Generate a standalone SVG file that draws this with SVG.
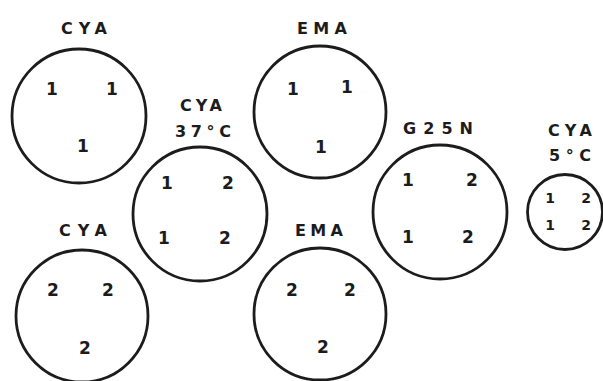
<svg xmlns="http://www.w3.org/2000/svg" width="603" height="381" viewBox="0 0 603 381">
<style>
.dish{fill:none;stroke:#1c1c1c;stroke-width:2.8}
.lbl{font-family:"DejaVu Sans","Liberation Sans",sans-serif;font-weight:bold;font-size:16px;fill:#1c1c1c;text-anchor:middle}
.n{font-family:"DejaVu Sans","Liberation Sans",sans-serif;font-weight:bold;font-size:17px;fill:#1c1c1c;text-anchor:middle}
.s{font-size:14px}
</style>
<rect width="603" height="381" fill="#ffffff"/>
<g id="dish-cya-1">
<text class="lbl" x="84" y="34" textLength="46" lengthAdjust="spacing">CYA</text>
<circle class="dish" cx="79" cy="116" r="67"/>
<text class="n" x="52" y="95">1</text><text class="n" x="112" y="95">1</text><text class="n" x="83" y="152">1</text>
</g>
<g id="dish-ema-1">
<text class="lbl" x="322" y="34" textLength="50" lengthAdjust="spacing">EMA</text>
<circle class="dish" cx="320" cy="112" r="66"/>
<text class="n" x="293" y="95">1</text><text class="n" x="347" y="93">1</text><text class="n" x="321" y="153">1</text>
</g>
<g id="dish-cya-37c">
<text class="lbl" x="201" y="111" textLength="42" lengthAdjust="spacing">CYA</text>
<text class="lbl" x="203" y="137" textLength="56" lengthAdjust="spacing">37°C</text>
<circle class="dish" cx="200" cy="214" r="67"/>
<text class="n" x="167" y="189">1</text><text class="n" x="228" y="189">2</text><text class="n" x="164" y="244">1</text><text class="n" x="225" y="244">2</text>
</g>
<g id="dish-g25n">
<text class="lbl" x="438" y="134" textLength="70" lengthAdjust="spacing">G25N</text>
<circle class="dish" cx="440" cy="212" r="67"/>
<text class="n" x="408" y="186">1</text><text class="n" x="472" y="186">2</text><text class="n" x="408" y="243">1</text><text class="n" x="468" y="243">2</text>
</g>
<g id="dish-cya-5c">
<text class="lbl" x="570" y="136" textLength="44" lengthAdjust="spacing">CYA</text>
<text class="lbl" x="570" y="161" textLength="42" lengthAdjust="spacing">5°C</text>
<circle class="dish" cx="565" cy="212" r="37.5"/>
<text class="n s" x="550" y="203">1</text><text class="n s" x="586" y="203">2</text><text class="n s" x="550" y="230">1</text><text class="n s" x="586" y="230">2</text>
</g>
<g id="dish-cya-2">
<text class="lbl" x="83" y="236" textLength="48" lengthAdjust="spacing">CYA</text>
<circle class="dish" cx="82" cy="316" r="66"/>
<text class="n" x="53" y="296">2</text><text class="n" x="108" y="296">2</text><text class="n" x="85" y="354">2</text>
</g>
<g id="dish-ema-2">
<text class="lbl" x="319" y="236" textLength="48" lengthAdjust="spacing">EMA</text>
<circle class="dish" cx="320" cy="314" r="66"/>
<text class="n" x="292" y="296">2</text><text class="n" x="350" y="296">2</text><text class="n" x="323" y="353">2</text>
</g>
</svg>
